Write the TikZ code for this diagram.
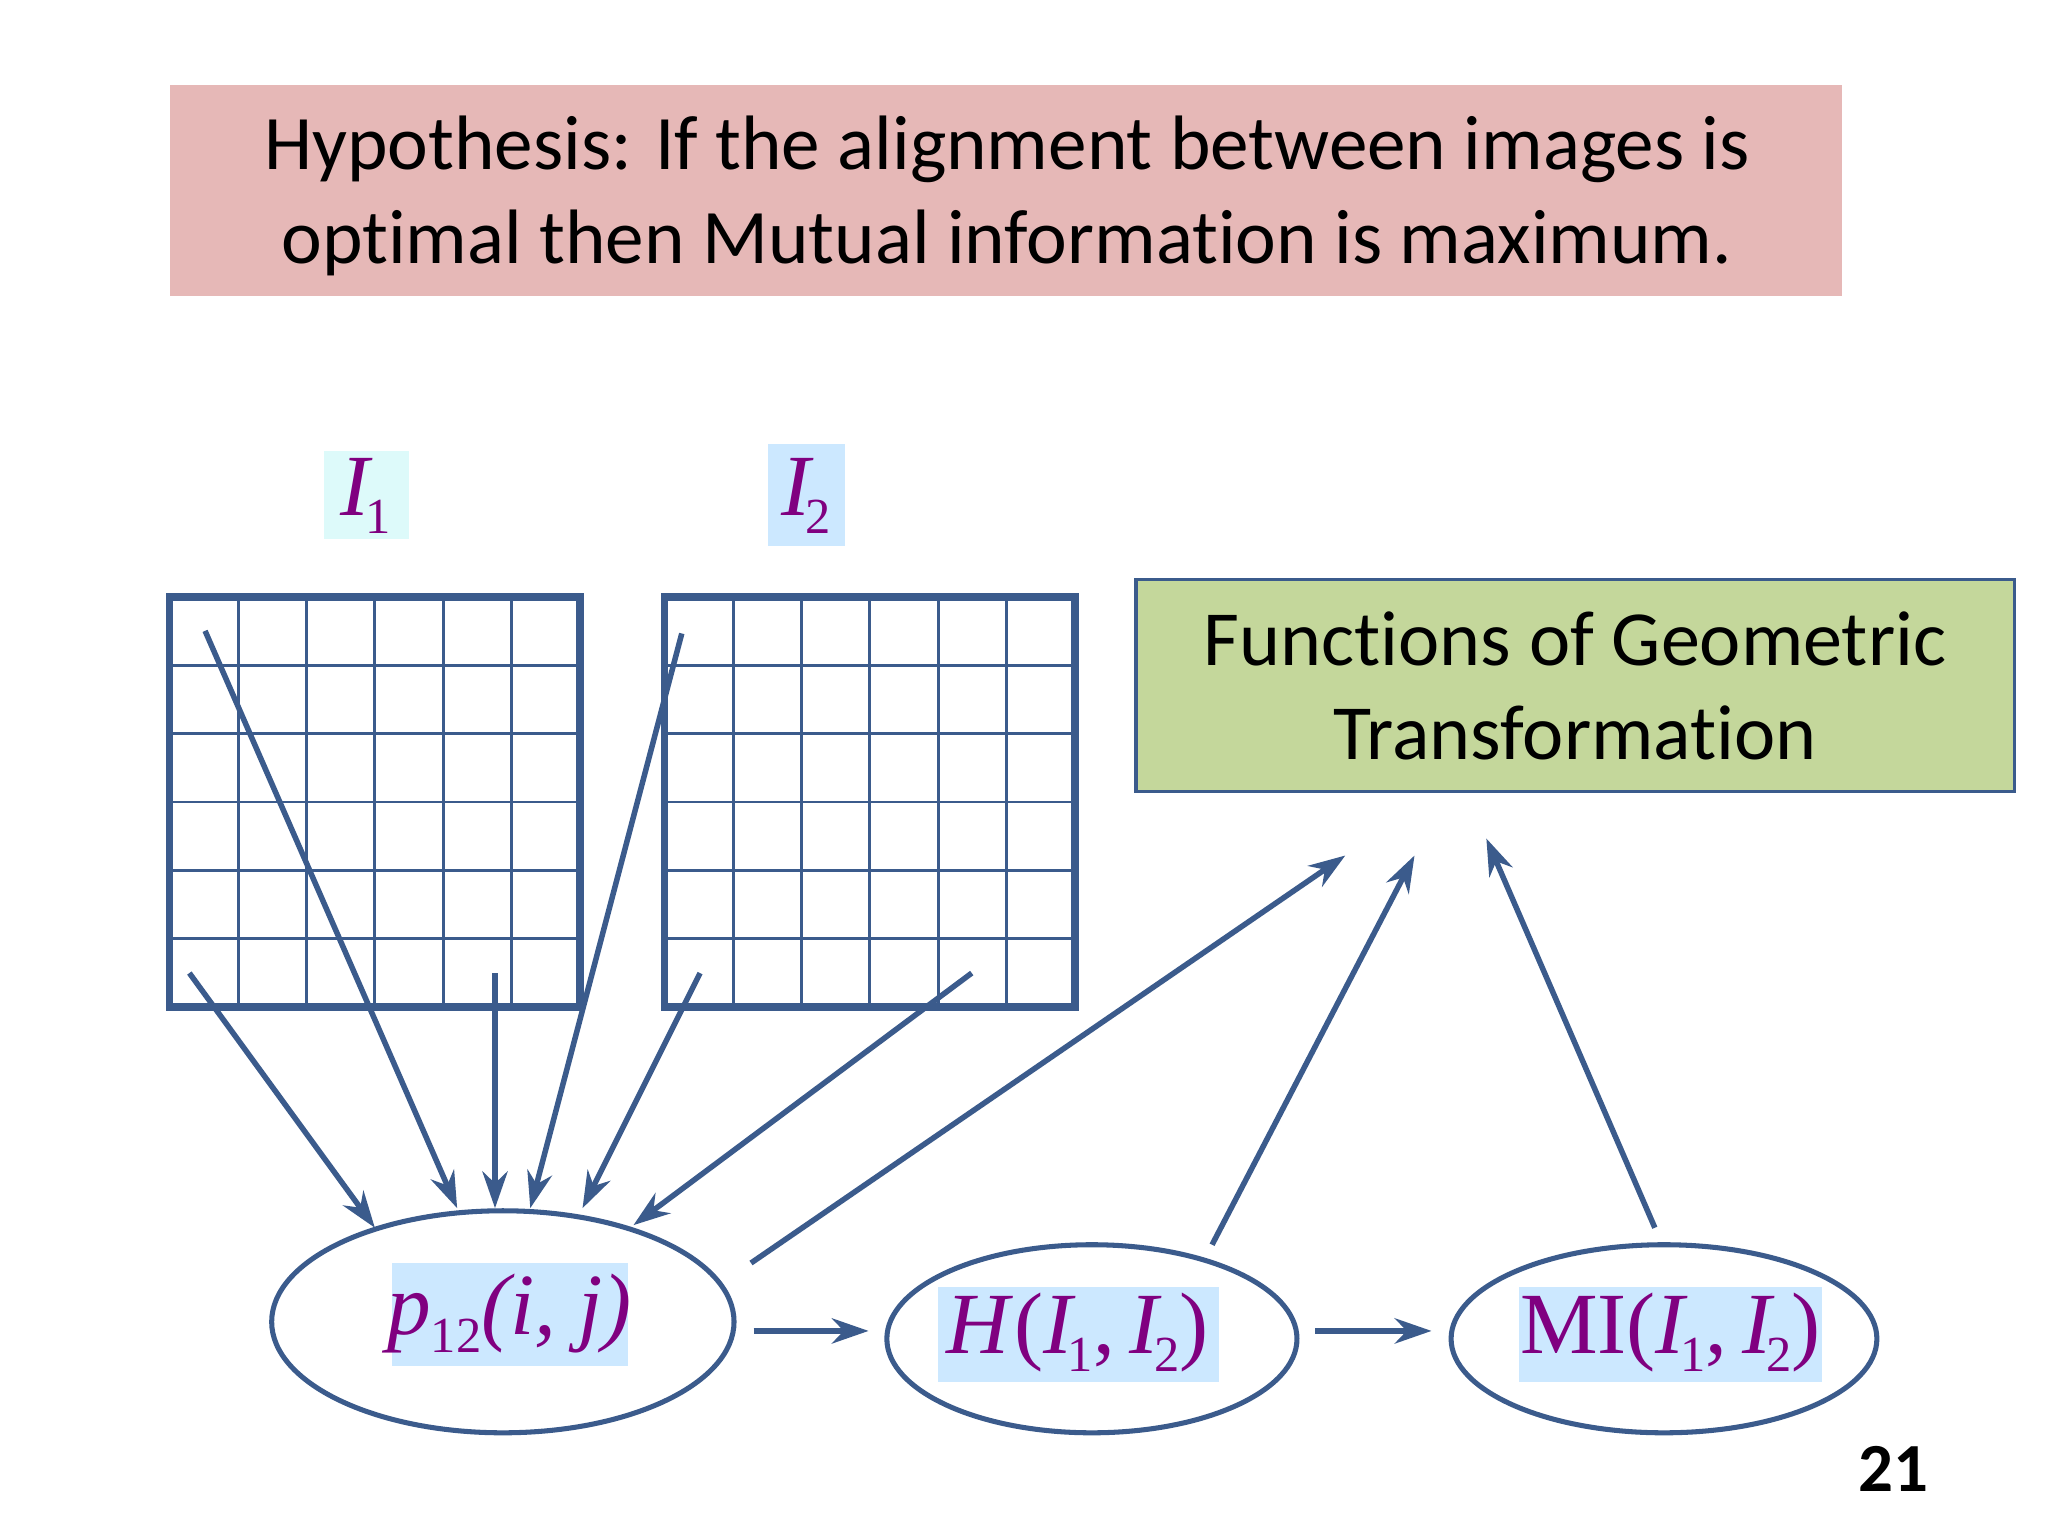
\documentclass[tikz,border=0pt]{standalone}
\usepackage{fontspec}
\setmainfont{Carlito}[Ligatures={NoCommon}]
\newfontfamily\mathser{Liberation Serif}
\usetikzlibrary{arrows.meta}
\definecolor{gridc}{HTML}{3B5B8C}
\definecolor{pinkc}{HTML}{E6B8B7}
\definecolor{greenc}{HTML}{C4D79B}
\definecolor{purp}{HTML}{800080}
\definecolor{lblue}{HTML}{CCE8FF}
\definecolor{lcyan}{HTML}{DDFAFA}
\newcommand{\sbs}[1]{\raisebox{-0.45ex}{\upshape\fontsize{11}{11}\selectfont #1}}
\tikzset{
 arr/.style={gridc,line width=1.2pt,-{Stealth[length=8pt,width=5.5pt]}},
 ell/.style={draw=gridc,line width=1.1pt,fill=white},
 lab/.style={text=purp,font=\mathser\itshape\fontsize{19}{21}\selectfont,inner sep=0pt},
}
\begin{document}
\begin{tikzpicture}[x=0.01cm,y=-0.01cm]
\useasboundingbox (0,0) rectangle (1568,1176);
\fill[white] (0,0) rectangle (1568,1176);
% hypothesis
\fill[pinkc] (130,65) rectangle (1410,227);
\node[align=center,font=\fontsize{16.8}{20.5}\selectfont] (hyp) at (771,150) {Hypothesis: If the alignment between images is\\optimal then Mutual information is maximum.};
% labels I1 I2
\fill[lcyan] (248,345) rectangle (313,413);
\node[lab] (i1) at (280,380) {I\kern-1pt\sbs{1}};
\fill[lblue] (588,340) rectangle (647,418);
\node[lab] (i2) at (617,380) {I\kern-1pt\sbs{2}};
% grids
\foreach \x in {130,509}{
 \fill[white] (\x,457) rectangle ++(314,314);
 \foreach \k in {1,...,5}{
  \draw[gridc,line width=0.6pt] (\x+\k*52.33,457) -- ++(0,314);
  \draw[gridc,line width=0.6pt] (\x,457+\k*52.33) -- ++(314,0);
 }
 \draw[gridc,line width=1.6pt] (\x,457) rectangle ++(314,314);
}
% green box
\node[draw=gridc,fill=greenc,line width=0.7pt,minimum width=6.72cm,minimum height=1.62cm,align=center,font=\fontsize{17}{20.5}\selectfont] (fun) at (1206,525) {Functions of Geometric\\Transformation};
% ellipses
\draw[ell] (385,1012) ellipse [x radius=177,y radius=85];
\draw[ell] (836,1025) ellipse [x radius=157,y radius=72];
\draw[ell] (1274,1025) ellipse [x radius=163,y radius=72];
\fill[lblue] (300,967) rectangle (481,1046);
\node[lab] (p) at (390,1006) {p\sbs{12}(i, j)};
\fill[lblue] (718,985) rectangle (933,1058);
\node[lab] (h) at (825,1020) {H\kern1pt{\upshape(}I\kern-1pt\sbs{1}{\upshape,\,}I\kern-1pt\sbs{2}{\upshape)}};
\fill[lblue] (1163,985) rectangle (1395,1058);
\node[lab] (mi) at (1279,1020) {{\upshape MI(}I\kern-1pt\sbs{1}{\upshape,\,}I\kern-1pt\sbs{2}{\upshape)}};
% coordinates
\foreach \n/\x/\y in {a1/145/745,a2/287/940,b1/157/483,b2/350/925,c1/379/745,c2/379/925,d1/522/485,d2/406/925,e1/536/745,e2/446/925,f1/744/745,f2/485/938,g1/575/967,g2/1030/655,h1/928/953,h2/1083/655,k1/1267/940,k2/1138/642,m1/577/1019,m2/665/1019,n1/1007/1019,n2/1096/1019}
 \coordinate (\n) at (\x,\y);
\foreach \s in {a,b,c,d,e,f,g,h,k,m,n}
 \draw[arr] (\s1) -- (\s2);
\node[font=\bfseries\fontsize{15}{18}\selectfont] (num) at (1450,1125) {21};
\end{tikzpicture}
\end{document}
